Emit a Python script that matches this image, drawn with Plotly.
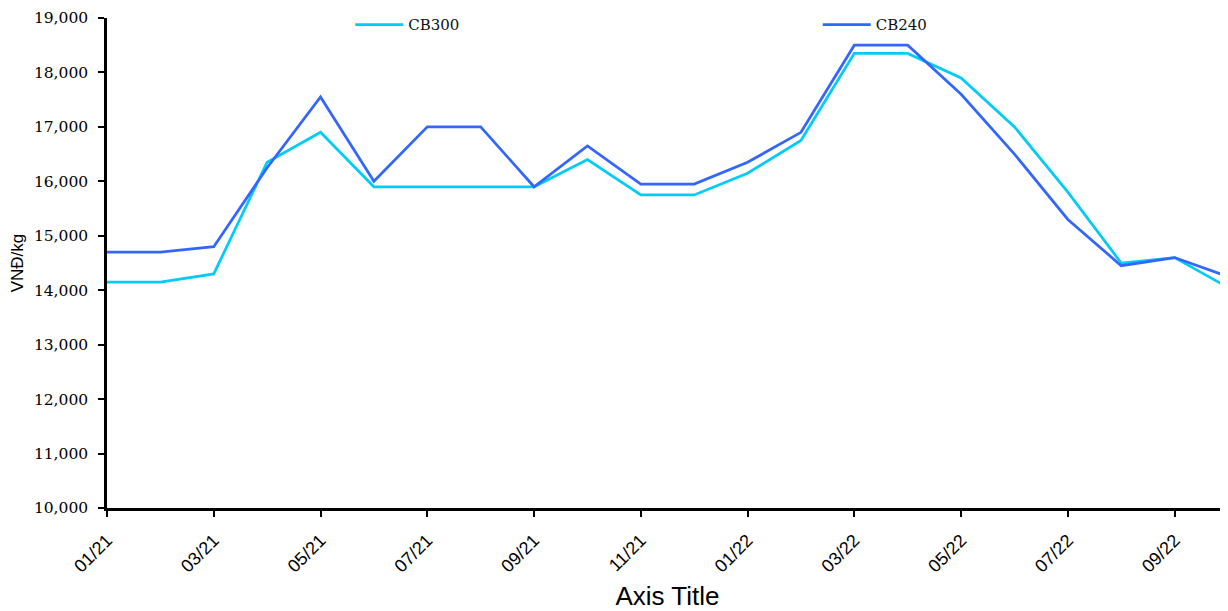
import plotly.graph_objects as go

months = ["01/21","02/21","03/21","04/21","05/21","06/21","07/21","08/21","09/21","10/21","11/21","12/21",
          "01/22","02/22","03/22","04/22","05/22","06/22","07/22","08/22","09/22","10/22"]
cb300 = [14150,14150,14300,16350,16900,15900,15900,15900,15900,16400,15750,15750,
         16150,16750,18350,18350,17900,17000,15800,14500,14600,14050]
cb240 = [14700,14700,14800,16250,17550,16000,17000,17000,15900,16650,15950,15950,
         16350,16900,18500,18500,17600,16500,15300,14450,14600,14250]
tick_labels = months[::2]

fig = go.Figure()
fig.add_trace(go.Scatter(x=months, y=cb300, mode="lines", name="CB300", legend="legend",
                         line=dict(color="#00CCF5", width=2.75)))
fig.add_trace(go.Scatter(x=months, y=cb240, mode="lines", name="CB240", legend="legend2",
                         line=dict(color="#3366FF", width=2.75)))

leg_common = dict(orientation="h", y=0.986, xanchor="left", yanchor="middle",
                  itemwidth=48,
                  font=dict(family="DejaVu Serif", size=15, color="#111"),
                  bgcolor="rgba(0,0,0,0)")

# page body has an 8px margin: paper starts at (8, 8)
fig.update_layout(
    width=1220, height=603,
    margin=dict(l=99, r=0, t=10, b=103),
    plot_bgcolor="white", paper_bgcolor="white",
    showlegend=True,
    legend=dict(x=0.217, **leg_common),
    legend2=dict(x=0.634, **leg_common),
)
fig.update_xaxes(type="category", range=[0, 21], tickvals=tick_labels, ticktext=tick_labels,
                 tickangle=-45, ticks="outside", ticklen=6, tickwidth=2, tickcolor="black",
                 showline=True, linecolor="black", linewidth=2.5, showgrid=False, zeroline=False,
                 automargin=False, ticklabelstandoff=6,
                 tickfont=dict(family="Liberation Sans", size=18, color="black"),
                 title=dict(text="Axis Title", font=dict(family="Liberation Sans", size=26, color="black"),
                            standoff=23))
fig.update_yaxes(range=[10000, 19000], dtick=1000, tickformat=",d",
                 ticks="outside", ticklen=6, tickwidth=2, tickcolor="black",
                 showline=True, linecolor="black", linewidth=2.5, showgrid=False, zeroline=False,
                 automargin=False, ticklabelstandoff=7,
                 tickfont=dict(family="DejaVu Serif", size=15.5, color="black"),
                 title=dict(text="VNĐ/kg", font=dict(family="Liberation Sans", size=17, color="black"),
                            standoff=8))

fig.write_html("out.html")
